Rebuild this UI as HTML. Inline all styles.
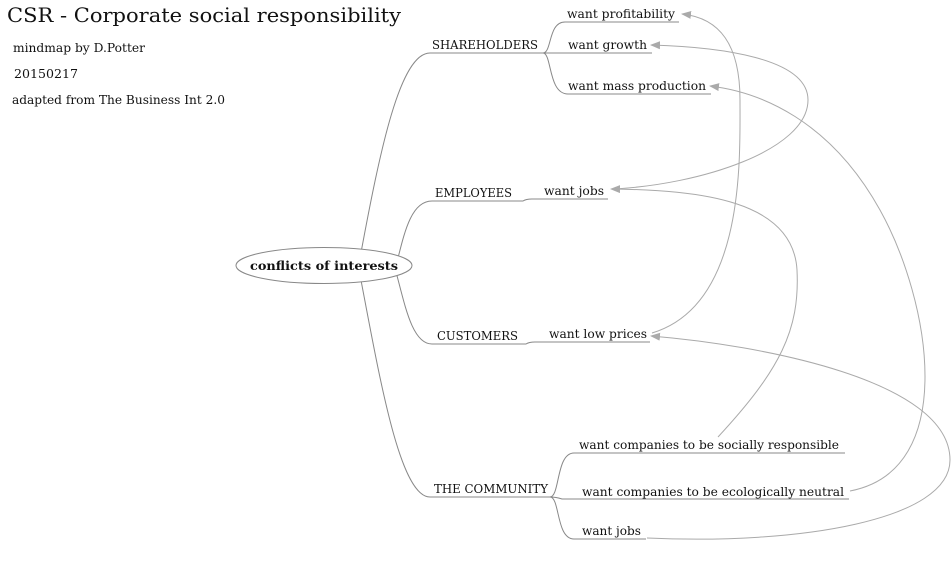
<!DOCTYPE html>
<html><head><meta charset="utf-8"><style>
html,body{margin:0;padding:0;background:#fff;width:951px;height:584px;overflow:hidden}
text{font-family:"DejaVu Serif","Liberation Serif",serif;fill:#111}
</style></head><body>
<svg width="951" height="584" viewBox="0 0 951 584" xmlns="http://www.w3.org/2000/svg">
<defs><marker id="a" markerWidth="10" markerHeight="8" refX="9" refY="4" orient="auto" markerUnits="userSpaceOnUse"><path d="M0,0 L10,4 L0,8 Z" fill="#aaa"/></marker></defs>
<text x="7" y="22" font-size="19.5" textLength="394" lengthAdjust="spacingAndGlyphs">CSR - Corporate social responsibility</text>
<text x="13" y="52" font-size="12" textLength="132" lengthAdjust="spacingAndGlyphs">mindmap by D.Potter</text>
<text x="14" y="78" font-size="12" textLength="64" lengthAdjust="spacingAndGlyphs">20150217</text>
<text x="12" y="104" font-size="12" textLength="213" lengthAdjust="spacingAndGlyphs">adapted from The Business Int 2.0</text>

<g fill="none" stroke="#888" stroke-width="1">
<path d="M360,258 C 380,150 400,53 430,53 H 543"/>
<path d="M398,258 C 405,230 412,201 432,201 H 523 Q 526,199 532,199 H 608"/>
<path d="M396,272 C 405,305 412,344 432,344 H 526 Q 529,342 535,342 H 650"/>
<path d="M360,275 C 380,380 400,497 430,497 H 550"/>
<path d="M543,53 C 552,53 548,22 565,22 H 679"/>
<path d="M543,53 H 652"/>
<path d="M543,53 C 552,53 548,94 568,94 H 711"/>
<path d="M550,497 C 560,497 556,453 574,453 H 845"/>
<path d="M550,497 Q 556,497 562,499 H 849"/>
<path d="M550,497 C 560,497 556,539 574,539 H 646"/>
</g>
<ellipse cx="324" cy="265.5" rx="88" ry="18" fill="#fff" stroke="#888"/>
<text x="324" y="270" font-size="12.5" font-weight="bold" text-anchor="middle" textLength="148" lengthAdjust="spacingAndGlyphs">conflicts of interests</text>

<g fill="none" stroke="#aaa" stroke-width="1">
<path d="M652,333 C 745,305 740,160 740,100 C 740,45 720,18 682,14" marker-end="url(#a)"/>
<path d="M612,189 C 700,185 808,150 808,100 C 808,58 720,47 651,45" marker-end="url(#a)"/>
<path d="M718,437 C 780,370 800,330 797,270 C 793,200 700,190 611,189" marker-end="url(#a)"/>
<path d="M850,491 C 960,470 930,300 880,210 C 830,120 760,92 710,86" marker-end="url(#a)"/>
<path d="M647,538 C 800,545 950,520 950,460 C 950,380 760,345 651,336" marker-end="url(#a)"/>
</g>

<g font-size="12">
<text x="432" y="49" textLength="106" lengthAdjust="spacingAndGlyphs">SHAREHOLDERS</text>
<text x="567" y="18" textLength="108" lengthAdjust="spacingAndGlyphs">want profitability</text>
<text x="568" y="49" textLength="79" lengthAdjust="spacingAndGlyphs">want growth</text>
<text x="568" y="90" textLength="138" lengthAdjust="spacingAndGlyphs">want mass production</text>
<text x="435" y="197" textLength="77" lengthAdjust="spacingAndGlyphs">EMPLOYEES</text>
<text x="544" y="195" textLength="60" lengthAdjust="spacingAndGlyphs">want jobs</text>
<text x="437" y="340" textLength="81" lengthAdjust="spacingAndGlyphs">CUSTOMERS</text>
<text x="549" y="338" textLength="98" lengthAdjust="spacingAndGlyphs">want low prices</text>
<text x="434" y="493" textLength="114" lengthAdjust="spacingAndGlyphs">THE COMMUNITY</text>
<text x="579" y="449" textLength="260" lengthAdjust="spacingAndGlyphs">want companies to be socially responsible</text>
<text x="582" y="496" textLength="262" lengthAdjust="spacingAndGlyphs">want companies to be ecologically neutral</text>
<text x="582" y="535" textLength="59" lengthAdjust="spacingAndGlyphs">want jobs</text>
</g>
</svg>
</body></html>
